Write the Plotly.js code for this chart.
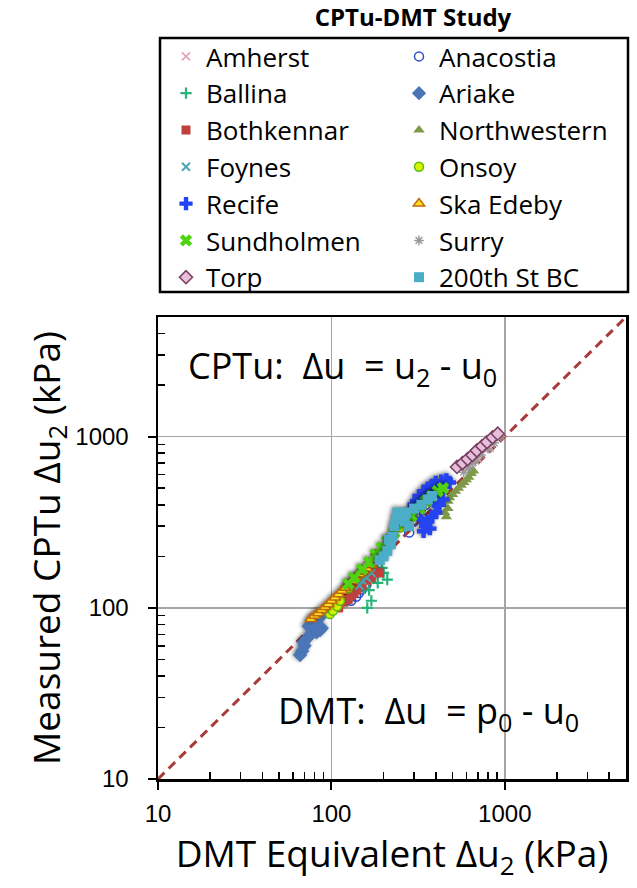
<!DOCTYPE html>
<html>
<head>
<meta charset="utf-8">
<script src="https://cdn.plot.ly/plotly-3.0.1.min.js"></script>
<style>
html,body{margin:0;padding:0;background:#fff;}
#chart{width:637px;height:888px;}
</style>
</head>
<body>
<div id="chart"></div>
<script>
// ---- Data (DMT equivalent Δu2 [x], measured CPTu Δu2 [y], kPa) ----
const amherstX = [600, 700, 820];
const amherstY = [640, 745, 860];

const anacostiaX = [130, 139, 144, 150, 159, 281, 300, 330, 350, 380, 400, 420];
const anacostiaY = [110, 116, 122, 128, 136, 275, 320, 380, 400, 430, 450, 470];

const ballinaX = [126, 140, 155, 161, 165, 170, 185, 196, 200, 210];
const ballinaY = [117, 125, 130, 100, 127, 110, 140, 171, 160, 146];

const ariakeX = [66, 68, 70, 69, 72, 75, 78, 82, 86, 88, 74, 78, 82, 86];
const ariakeY = [53, 56, 60, 63, 66, 69, 72, 72, 74, 76, 78, 82, 85, 88];

const bothkennarX = [110, 118, 125, 130, 135, 140, 150, 160, 165, 170, 175, 180, 189];
const bothkennarY = [100, 108, 112, 118, 122, 128, 135, 145, 155, 150, 170, 160, 160];

const northwesternX = [440, 450, 460, 470, 470, 480, 500, 520, 540, 560, 580, 600, 620, 640, 660];
const northwesternY = [400, 360, 340, 380, 420, 440, 460, 480, 500, 520, 540, 560, 580, 610, 630];

const foynesX = [145, 150, 160, 170];
const foynesY = [135, 145, 150, 160];

const onsoyX = [98, 102, 108, 112, 125, 150, 180, 215, 250, 290, 330, 380, 420];
const onsoyY = [92, 96, 102, 110, 130, 160, 205, 250, 295, 340, 385, 440, 480];

const recifeX = [290, 300, 310, 320, 340, 360, 380, 400, 430, 460, 480, 350, 360, 380, 400, 340, 370, 420, 440, 330, 390];
const recifeY = [360, 400, 420, 450, 480, 500, 520, 540, 550, 560, 540, 300, 320, 340, 360, 280, 290, 400, 430, 330, 420];

const skaEdebyX = [76, 80, 84, 88, 92, 96, 100, 105, 110, 115, 120, 126, 132, 138, 145, 152, 160, 169];
const skaEdebyY = [86, 90, 93, 97, 101, 105, 110, 115, 120, 126, 131, 137, 143, 150, 157, 163, 170, 178];

const sundholmenX = [125, 135, 150, 165, 180, 195, 210, 230, 260, 290, 320, 350, 380, 410, 440];
const sundholmenY = [138, 150, 168, 185, 205, 225, 245, 275, 310, 345, 380, 420, 450, 480, 500];

const surryX = [580, 620, 650, 680, 730, 800, 870, 950];
const surryY = [620, 660, 700, 720, 780, 850, 920, 1000];

const torpX = [530, 570, 610, 650, 690, 740, 790, 850, 910];
const torpY = [665, 700, 740, 780, 830, 880, 930, 990, 1040];

const bcX = [190, 200, 210, 215, 220, 225, 230, 235, 240, 250, 265, 270, 280, 300, 330, 360, 380];
const bcY = [190, 200, 215, 250, 235, 260, 300, 330, 360, 340, 320, 360, 300, 380, 400, 430, 450];

const lineX = [10, 5000];
const lineY = [10, 5000];

const xTickVals = [10, 100, 1000];
const xTickText = ['10', '100', '1000'];
const yTickVals = [10, 100, 1000];
const yTickText = ['10', '100', '1000'];
const minorTickVals = [20, 30, 40, 50, 60, 70, 80, 90, 200, 300, 400, 500, 600, 700, 800, 900, 2000, 3000, 4000];

// ---- Traces ----
function mk(name, x, y, marker, leg) {
  return {type: 'scatter', mode: 'markers', name: name, x: x, y: y, marker: marker, cliponaxis: false, legend: leg};
}

const traces = [
  {type: 'scatter', mode: 'lines', x: lineX, y: lineY, showlegend: false, hoverinfo: 'skip',
   line: {color: '#A83A38', width: 3, dash: '9px,6px'}},
  mk('Amherst', amherstX, amherstY, {symbol: 'x-thin-open', size: 8, color: '#E9A3BC', line: {width: 1.8, color: '#E9A3BC'}}, 'legend'),
  mk('Anacostia', anacostiaX, anacostiaY, {symbol: 'circle-open', size: 9, color: '#2F4FCF', line: {width: 1.5, color: '#2F4FCF'}}, 'legend2'),
  mk('Ballina', ballinaX, ballinaY, {symbol: 'cross-thin-open', size: 8, color: '#25B577', line: {width: 2.2, color: '#25B577'}}, 'legend'),
  mk('Ariake', ariakeX, ariakeY, {symbol: 'diamond', size: 11, color: '#4A76B8', line: {width: 0}}, 'legend2'),
  mk('Bothkennar', bothkennarX, bothkennarY, {symbol: 'square', size: 9, color: '#C0403D', line: {width: 0}}, 'legend'),
  mk('Northwestern', northwesternX, northwesternY, {symbol: 'triangle-up', size: 10, color: '#7E9A47', line: {width: 0}}, 'legend2'),
  mk('Foynes', foynesX, foynesY, {symbol: 'x-thin-open', size: 8, color: '#4BA6B6', line: {width: 2, color: '#4BA6B6'}}, 'legend'),
  mk('Onsoy', onsoyX, onsoyY, {symbol: 'circle', size: 9, color: '#D4F500', line: {width: 1.5, color: '#5DBB10'}}, 'legend2'),
  mk('Recife', recifeX, recifeY, {symbol: 'cross', size: 11, color: '#2443F2', line: {width: 0}}, 'legend'),
  mk('Ska Edeby', skaEdebyX, skaEdebyY, {symbol: 'triangle-up', size: 10, color: '#FFE31A', line: {width: 1.5, color: '#C06A10'}}, 'legend2'),
  mk('Sundholmen', sundholmenX, sundholmenY, {symbol: 'x', size: 11, color: '#4FD412', line: {width: 0}}, 'legend'),
  mk('Surry', surryX, surryY, {symbol: 'asterisk-open', size: 8, color: '#9A9A9A', line: {width: 1.5, color: '#9A9A9A'}}, 'legend2'),
  mk('Torp', torpX, torpY, {symbol: 'diamond', size: 10, color: '#E6BFDA', line: {width: 1.6, color: '#7A4062'}}, 'legend'),
  mk('200th St BC', bcX, bcY, {symbol: 'square', size: 10, color: '#4BADC8', line: {width: 0}}, 'legend2')
];

const L = 158, R = 11, T = 317, B = 109;
const plotH = 888 - T - B;
const plotW = 637 - L - R;
function py(p) { return (888 - B - p) / plotH; }
function px(p) { return (p - L) / plotW; }

const FONT = '"Open Sans", Lato, sans-serif';

function legendAt(xPix) {
  return {
    orientation: 'v',
    x: px(xPix), xanchor: 'left',
    y: py(33), yanchor: 'top',
    font: {family: FONT, size: 26, color: '#000'},
    bgcolor: 'rgba(0,0,0,0)', borderwidth: 0,
    itemclick: false, itemdoubleclick: false,
    traceorder: 'normal'
  };
}

const layout = {
  width: 637, height: 888,
  margin: {l: L, r: R, t: T, b: B, pad: 0},
  paper_bgcolor: '#ffffff',
  plot_bgcolor: '#ffffff',
  font: {family: FONT, color: '#000'},
  title: {
    text: '<b>CPTu-DMT Study</b>',
    font: {family: FONT, size: 24, color: '#000'},
    xref: 'container', yref: 'container',
    x: 413 / 637, xanchor: 'center',
    y: 1 - 18 / 888, yanchor: 'middle'
  },
  xaxis: {
    type: 'log', range: [1, Math.log10(5000)],
    tickvals: xTickVals, ticktext: xTickText,
    ticks: 'outside', ticklen: 8, tickwidth: 2, tickcolor: '#000',
    ticklabelstandoff: 4,
    tickfont: {family: '"Liberation Sans", Arial, sans-serif', size: 24, color: '#000'},
    showgrid: true, gridcolor: '#A6A6A6', gridwidth: 1.5,
    showline: true, linecolor: '#000', linewidth: 2.5, mirror: true,
    zeroline: false,
    minor: {ticks: 'inside', ticklen: 7, tickwidth: 1.5, tickcolor: '#000', showgrid: false, tickvals: minorTickVals},
    title: {text: 'DMT Equivalent Δu<sub>2</sub> (kPa)', font: {family: FONT, size: 37, color: '#000'}, standoff: 6}
  },
  yaxis: {
    type: 'log', range: [1, Math.log10(5000)],
    tickvals: yTickVals, ticktext: yTickText,
    ticks: 'outside', ticklen: 8, tickwidth: 2, tickcolor: '#000',
    ticklabelstandoff: 14,
    tickfont: {family: '"Liberation Sans", Arial, sans-serif', size: 24, color: '#000'},
    showgrid: true, gridcolor: '#A6A6A6', gridwidth: 1.5,
    showline: true, linecolor: '#000', linewidth: 2.5, mirror: true,
    zeroline: false,
    minor: {ticks: 'inside', ticklen: 7, tickwidth: 1.5, tickcolor: '#000', showgrid: false, tickvals: minorTickVals},
    title: {text: 'Measured CPTu Δu<sub>2</sub> (kPa)', font: {family: FONT, size: 37, color: '#000'}, standoff: 4}
  },
  showlegend: true,
  legend: legendAt(166),
  legend2: legendAt(399),
  shapes: [{
    type: 'rect', xref: 'paper', yref: 'paper',
    x0: px(160), x1: px(628), y0: py(292), y1: py(38),
    line: {color: '#000', width: 2.5}, fillcolor: 'rgba(0,0,0,0)', layer: 'above'
  }],
  annotations: [
    {xref: 'paper', yref: 'paper', x: px(186), y: py(367), xanchor: 'left', yanchor: 'middle', showarrow: false,
     text: 'CPTu:  Δu  = u<sub>2</sub> - u<sub>0</sub>', font: {family: FONT, size: 36, color: '#000'}},
    {xref: 'paper', yref: 'paper', x: px(276), y: py(712), xanchor: 'left', yanchor: 'middle', showarrow: false,
     text: 'DMT:  Δu  = p<sub>0</sub> - u<sub>0</sub>', font: {family: FONT, size: 36, color: '#000'}}
  ]
};

Plotly.newPlot('chart', traces, layout, {displayModeBar: false, staticPlot: true}).then(function(gd) {
  // soft dark glow as in the reference around the clustered series
  const shadowNames = ['Ariake', 'Ska Edeby', 'Recife', 'Bothkennar', 'Sundholmen', '200th St BC'];
  const groups = gd.querySelectorAll('.cartesianlayer .scatterlayer .trace');
  groups.forEach(function(g, i) {
    const t = gd.data[i];
    if (t && shadowNames.indexOf(t.name) >= 0) {
      const pts = g.querySelector('.points');
      if (pts) pts.style.filter = 'drop-shadow(-1px -1px 2px rgba(0,0,0,0.55))';
    }
  });
});
</script>
</body>
</html>
